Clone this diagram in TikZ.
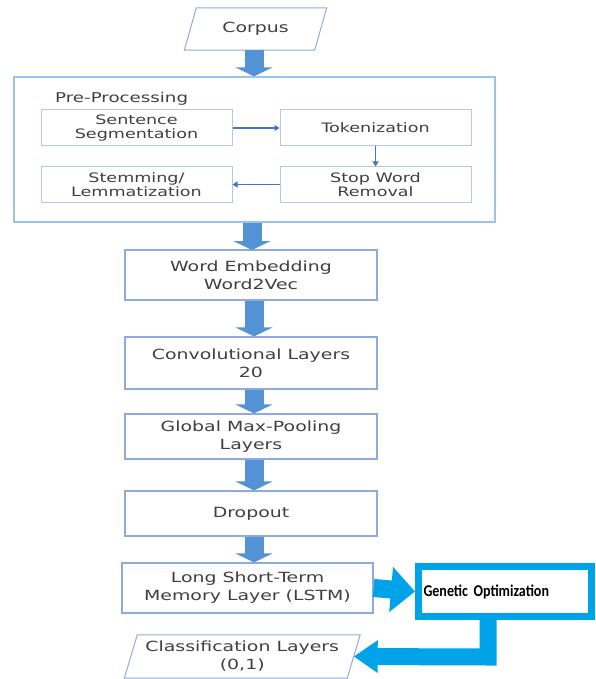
\documentclass[tikz,border=0pt]{standalone}
\usepackage{fontspec}
\setmainfont{DejaVu Sans}[FakeStretch=1.35]
\newfontfamily\genfont{Carlito}[FakeStretch=0.85]
\usetikzlibrary{arrows.meta}
\definecolor{arrowblue}{RGB}{84,146,214}
\definecolor{boxblue}{RGB}{143,170,220}
\definecolor{outerblue}{RGB}{157,195,230}
\definecolor{innerblue}{RGB}{180,199,231}
\definecolor{smallarrow}{RGB}{68,114,196}
\definecolor{gencolor}{RGB}{0,162,232}
\definecolor{txtgray}{RGB}{64,64,64}
\begin{document}
\begin{tikzpicture}[x=1pt,y=-1pt,
  mainbox/.style={draw=boxblue, line width=1.2pt, fill=white, minimum width=252pt,
    inner sep=0pt, text=txtgray, align=center, font=\fontsize{14}{18}\selectfont},
  innerbox/.style={draw=innerblue, line width=1pt, fill=white, minimum width=191pt,
    minimum height=36pt, inner sep=0pt, text=txtgray, align=center,
    font=\fontsize{13}{14}\selectfont},
  parabox/.style={inner sep=0pt, text=txtgray, align=center, font=\fontsize{14}{18}\selectfont},
  bigarrow/.style={draw=arrowblue, line width=19pt, -{Triangle[width=37pt,length=9pt]}},
  smallarr/.style={draw=smallarrow, line width=1.5pt, -{Triangle[width=6pt,length=5pt]}},
  genarrow/.style={draw=gencolor, line width=17pt, miter limit=10, line join=miter}
]
\useasboundingbox (0,0) rectangle (595,679);
\fill[white] (0,0) rectangle (595,679);

% Corpus (parallelogram)
\node[parabox, minimum width=130pt, minimum height=42pt] (corpus) at (255.5,29) {Corpus};
\draw[boxblue, line width=1pt, fill=white]
  ([xshift=6pt]corpus.north west) -- ([xshift=6pt]corpus.north east)
  -- ([xshift=-6pt]corpus.south east) -- ([xshift=-6pt]corpus.south west) -- cycle;
\node[parabox] at (corpus.center) {Corpus};

% Pre-processing container
\node[draw=outerblue, line width=1.3pt, fill=white, minimum width=481pt, minimum height=145pt,
  inner sep=0pt] (pre) at (254.5,149.5) {};
\node[anchor=west, inner sep=0pt, text=txtgray, font=\fontsize{13.5}{14}\selectfont]
  (prelabel) at (55,99) {Pre-Processing};
\node[innerbox] (sent) at (136.5,128) {Sentence\\Segmentation};
\node[innerbox] (tok) at (375.5,128) {Tokenization};
\node[innerbox, minimum height=35pt] (stem) at (136.5,184.5) {Stemming/\\Lemmatization};
\node[innerbox, minimum height=35pt] (stop) at (375.5,184.5) {Stop Word\\Removal};
\draw[smallarr] (sent.east) -- (tok.west);
\draw[smallarr] (tok.south) -- (stop.north);
\draw[smallarr] (stop.west) -- (stem.east);

% Main column
\node[mainbox, minimum height=50pt] (emb) at (251,275) {Word Embedding\\Word2Vec};
\node[mainbox, minimum height=52pt] (conv) at (251,363) {Convolutional Layers\\20};
\node[mainbox, minimum height=45pt] (pool) at (251,436.5) {Global Max-Pooling\\Layers};
\node[mainbox, minimum height=45pt] (drop) at (251,513.5) {Dropout};
\node[mainbox, minimum width=251pt, minimum height=50pt] (lstm) at (247.5,588) {Long Short-Term\\Memory Layer (LSTM)};

% Classification (parallelogram)
\node[parabox, minimum width=222.5pt, minimum height=43pt] (class) at (242.25,656.5) {Classification Layers\\(0,1)};
\draw[boxblue, line width=1pt, fill=white]
  ([xshift=6.5pt]class.north west) -- ([xshift=6.5pt]class.north east)
  -- ([xshift=-6.5pt]class.south east) -- ([xshift=-6.5pt]class.south west) -- cycle;
\node[parabox] at (class.center) {Classification Layers\\(0,1)};

% Genetic optimization
\node[draw=gencolor, line width=7pt, fill=white, minimum width=173pt, minimum height=50pt,
  inner xsep=5pt, inner ysep=0pt, text width=163pt, align=left, text=black,
  font=\genfont\bfseries\fontsize{16.5}{18}\selectfont] (gen) at (505,591.5) {Genetic Optimization};

% Big arrows
\coordinate (corpusB) at (254,50);
\draw[bigarrow] (corpusB) -- (corpusB |- pre.north);
\draw[bigarrow] (pre.south -| 252,0) -- (252,250);
\draw[bigarrow] (emb.south -| 254,0) -- (conv.north -| 254,0);
\draw[bigarrow] (conv.south -| 254,0) -- (pool.north -| 254,0);
\draw[bigarrow] (pool.south -| 254,0) -- (drop.north -| 254,0);
\draw[bigarrow] (drop.south -| 254,0) -- (lstm.north -| 254,0);

% Genetic arrows
\draw[draw=gencolor, line width=18pt, -{Triangle[width=44pt,length=24pt]}] (lstm.east) -- (gen.west);
\coordinate (gbend) at (488,657);
\draw[genarrow, -{Triangle[width=31pt,length=24pt]}] (gen.south -| gbend) -- (gbend) -- (class.east);
\end{tikzpicture}
\end{document}
